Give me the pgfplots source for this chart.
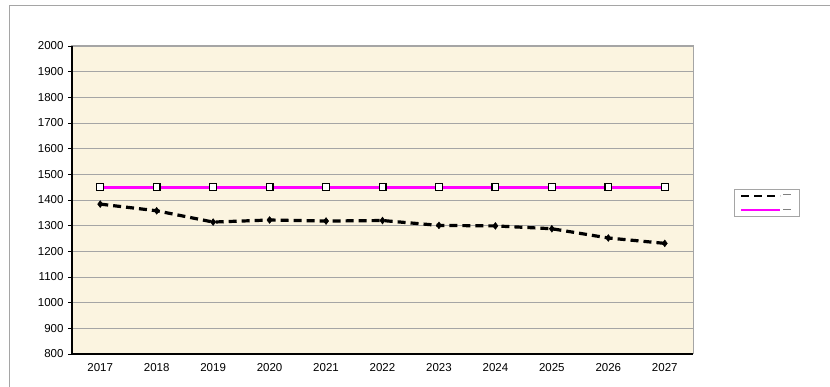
\documentclass[border=0pt]{standalone}
\usepackage{pgfplots}
\pgfplotsset{compat=1.18}
\usepackage{fontspec}
\setmainfont{Liberation Sans}
\definecolor{parch}{RGB}{251,244,224}
\definecolor{gridg}{RGB}{165,165,165}
\definecolor{mag}{RGB}{255,0,255}
\begin{document}
\begin{tikzpicture}[x=1pt,y=1pt]
\useasboundingbox (0,0) rectangle (830,387);
\draw[gridg, line width=1.2pt] (9.5,0) -- (9.5,381.5) -- (830,381.5);
\begin{axis}[
  at={(72pt,33pt)}, anchor=south west,
  scale only axis, width=621pt, height=308pt,
  xmin=2016.5, xmax=2027.5, ymin=800, ymax=2000,
  xtick={2017,2018,...,2027},
  minor xtick={2016.5,2017.5,...,2027.5},
  ytick={800,900,...,2000},
  /pgf/number format/.cd, 1000 sep={}, assume math mode=true,
  /pgfplots/.cd,
  tick align=outside, tick pos=left,
  major tick length=4pt, minor tick length=4pt,
  xtick style={draw=none},
  minor x tick style={black, line width=0.6pt},
  ytick style={black, line width=0.6pt},
  ymajorgrids, grid style={gridg, line width=0.9pt},
  axis line style={gridg, line width=1pt},
  axis background/.style={fill=parch},
  tick label style={font=\fontsize{11.5}{13}\selectfont},
  yticklabel style={xshift=-1pt},
  xticklabel style={yshift=-2pt},
  legend style={at={(rel axis cs:1.066,0.5357)}, anchor=north west,
    draw=gridg, fill=white, line width=1pt,
    font=\fontsize{3}{4}\selectfont\color{gray},
    inner xsep=6pt, inner ysep=3pt, row sep=8pt},
  legend cell align=left,
  legend image code/.code={\draw[#1, line width=2pt] (0pt,0pt) -- (39pt,0pt);},
  clip=false,
]
\addplot[black, line width=3.2pt, dash pattern=on 8pt off 5pt,
  mark=diamond*, mark size=3.4pt, mark options={solid, line width=0.5pt}]
  coordinates {(2017,1384) (2018,1358) (2019,1314) (2020,1322) (2021,1318)
   (2022,1320) (2023,1301) (2024,1299) (2025,1288) (2026,1252) (2027,1231)};
\addlegendentry{\rule[0.3ex]{8pt}{0.3pt}}
\addplot[mag, line width=3pt,
  mark=square*, mark size=3.4pt, mark options={fill=white, draw=black, solid, line width=1.2pt}]
  coordinates {(2017,1450) (2018,1450) (2019,1450) (2020,1450) (2021,1450)
   (2022,1450) (2023,1450) (2024,1450) (2025,1450) (2026,1450) (2027,1450)};
\addlegendentry{\rule[0.3ex]{8pt}{0.3pt}}
\draw[black, line width=1.3pt] (rel axis cs:0,1) -- (rel axis cs:0,0) -- (rel axis cs:1,0);
\end{axis}
\end{tikzpicture}
\end{document}
